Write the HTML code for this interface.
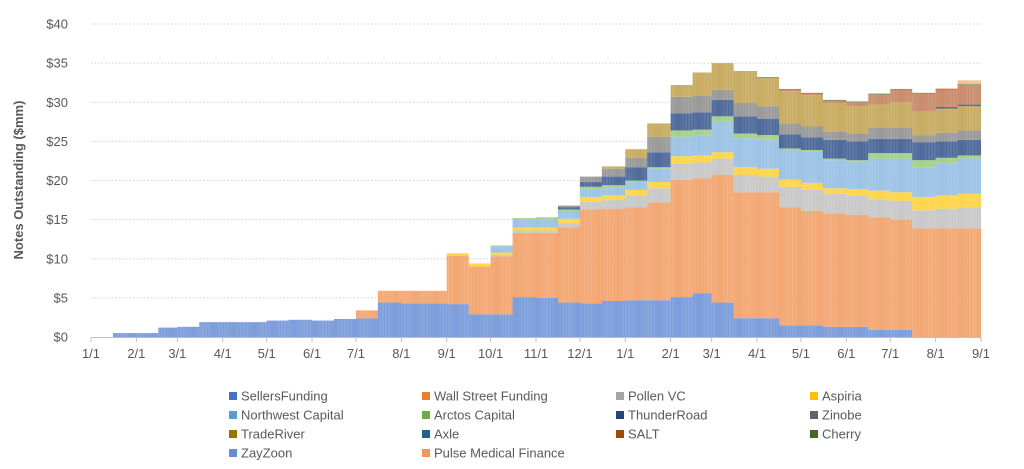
<!DOCTYPE html>
<html><head><meta charset="utf-8"><style>
body{margin:0;background:#fff;width:1024px;height:464px;overflow:hidden;font-family:"Liberation Sans",sans-serif}
svg text{font-family:"Liberation Sans",sans-serif;fill:#595959}
</style></head><body>
<svg id="chart" width="1024" height="464" viewBox="0 0 1024 464" xmlns="http://www.w3.org/2000/svg">
<g id="grid"></g>
<g id="bars"></g>
<g id="axes"></g>
<text transform="translate(23,180) rotate(-90)" text-anchor="middle" font-size="13" font-weight="bold">Notes Outstanding ($mm)</text>
<g id="legend"></g>
</svg>
<script>
// half-month periods from Jan 1 (year 1) to Aug 31 (year 2): 40 periods
const seriesNames = ["SellersFunding","Wall Street Funding","Pollen VC","Aspiria","Northwest Capital","Arctos Capital","ThunderRoad","Zinobe","TradeRiver","Axle","SALT","Cherry","ZayZoon","Pulse Medical Finance"];
const legendColors = ["#4472C4","#ED7D31","#A5A5A5","#FFC000","#5B9BD5","#70AD47","#264478","#636363","#997300","#255E91","#9E480E","#43682B","#698ED0","#F1975A"];
const barColors = ["#7d9ddb","#f3a874","#c9c9c9","#ffd54a","#9dc3e6","#a6d08a","#4f6b9c","#9a9a9a","#c8ac62","#3f6d9e","#c98c6c","#5c8a44","#8fa9df","#f7bd96"];
const sellersFunding = [0,0.5,0.5,1.2,1.3,1.9,1.9,1.9,2.1,2.2,2.1,2.3,2.4,4.4,4.3,4.3,4.2,2.9,2.9,5.1,5.0,4.4,4.3,4.6,4.7,4.7,5.1,5.6,4.4,2.4,2.4,1.5,1.5,1.3,1.3,0.9,0.9,0,0,0];
const wallStreet = [0,0,0,0,0,0,0,0,0,0,0,0,1.0,1.5,1.6,1.6,6.2,6.1,7.4,8.2,8.3,9.6,12.0,11.8,11.9,12.5,15.0,14.7,16.3,16.1,16.1,15.1,14.6,14.5,14.3,14.4,14.1,13.9,13.9,13.9];
const pollen = [0,0,0,0,0,0,0,0,0,0,0,0,0,0,0,0,0,0,0.2,0.3,0.3,0.5,1.0,1.1,1.5,1.8,2.1,2.0,2.1,2.2,2.0,2.6,2.7,2.5,2.5,2.3,2.4,2.3,2.5,2.7];
const aspiria = [0,0,0,0,0,0,0,0,0,0,0,0,0,0,0,0,0.3,0.4,0.3,0.4,0.4,0.6,0.6,0.6,0.7,0.8,0.9,0.9,0.8,1.0,1.0,0.9,0.9,0.7,0.8,1.1,1.1,1.7,1.7,1.7];
const northwest = [0,0,0,0,0,0,0,0,0,0,0,0,0,0,0,0,0,0,0.8,1.0,1.0,1.0,1.0,1.0,1.0,1.7,2.5,2.6,3.9,3.7,3.7,3.8,4.0,3.6,3.5,4.1,4.3,3.8,4.1,4.5];
const arctos = [0,0,0,0,0,0,0,0,0,0,0,0,0,0,0,0,0,0,0.1,0.2,0.3,0.2,0.3,0.3,0.2,0.2,0.8,0.7,0.7,0.6,0.6,0.2,0.2,0.2,0.2,0.7,0.7,0.9,0.7,0.4];
const thunderRoad = [0,0,0,0,0,0,0,0,0,0,0,0,0,0,0,0,0,0,0,0,0,0.3,0.6,1.1,1.7,1.9,2.2,2.2,2.1,2.2,2.1,1.8,1.6,2.4,2.4,1.8,1.8,2.3,2.1,2.0];
const zinobe = [0,0,0,0,0,0,0,0,0,0,0,0,0,0,0,0,0,0,0,0,0,0.2,0.7,1.0,1.2,2.0,2.1,2.1,1.3,1.7,1.6,1.4,1.4,1.0,1.0,1.5,1.5,0.9,1.1,1.2];
const tradeRiver = [0,0,0,0,0,0,0,0,0,0,0,0,0,0,0,0,0,0,0,0,0,0,0,0.3,1.1,1.7,1.5,3.0,3.4,4.1,3.6,4.1,4.0,3.7,3.5,2.9,3.2,3.0,3.1,3.1];
const axle = [0,0,0,0,0,0,0,0,0,0,0,0,0,0,0,0,0,0,0,0,0,0,0,0,0,0,0,0,0,0,0,0,0,0,0,0,0,0,0.2,0.2];
const salt = [0,0,0,0,0,0,0,0,0,0,0,0,0,0,0,0,0,0,0,0,0,0,0,0,0,0,0,0,0,0,0,0.2,0.2,0.3,0.5,1.3,1.6,2.3,2.2,2.5];
const cherry = [0,0,0,0,0,0,0,0,0,0,0,0,0,0,0,0,0,0,0,0,0,0,0,0,0,0,0,0,0,0,0.1,0.1,0.1,0.1,0.1,0.1,0.1,0.1,0.1,0.1];
const zayZoon = [0,0,0,0,0,0,0,0,0,0,0,0,0,0,0,0,0,0,0,0,0,0,0,0,0,0,0,0,0,0,0,0,0,0,0,0,0,0,0,0];
const pulse = [0,0,0,0,0,0,0,0,0,0,0,0,0,0,0,0,0,0,0,0,0,0,0,0,0,0,0,0,0,0,0,0,0,0,0,0,0,0,0.1,0.5];
const stackOrder = [zayZoon,sellersFunding,wallStreet,pollen,aspiria,northwest,arctos,thunderRoad,zinobe,tradeRiver,axle,salt,cherry,pulse];
const stackColorIdx = [12,0,1,2,3,4,5,6,7,8,9,10,11,13];
const yTicks = [0,5,10,15,20,25,30,35,40];
const xTickLabels = ["1/1","2/1","3/1","4/1","5/1","6/1","7/1","8/1","9/1","10/1","11/1","12/1","1/1","2/1","3/1","4/1","5/1","6/1","7/1","8/1","9/1"];

const NS="http://www.w3.org/2000/svg";
const X0=91,X1=981,Y0=337,Y40=24;
const start=new Date(2018,0,1), end=new Date(2019,8,1);
const totalDays=Math.round((end-start)/864e5);
const xScale=d=>X0+d*(X1-X0)/totalDays;
const yScale=v=>Y0-v*(Y0-Y40)/40;
function mk(tag,attrs,parent){const e=document.createElementNS(NS,tag);for(const k in attrs)e.setAttribute(k,attrs[k]);parent.appendChild(e);return e;}
const grid=document.getElementById('grid'),axes=document.getElementById('axes'),bars=document.getElementById('bars'),legend=document.getElementById('legend');
yTicks.forEach(v=>{
  if(v>0){const l=mk('line',{x1:X0,x2:X1,y1:yScale(v),y2:yScale(v),stroke:'#d0d0d0','stroke-dasharray':'1.5,2','stroke-width':1},grid);
  
  }
  const t=mk('text',{x:68,y:yScale(v)+4.5,'text-anchor':'end','font-size':13},axes);t.textContent='$'+v;
  
  
});
const dayW=(X1-X0)/totalDays;
for(let d=0;d<totalDays;d++){
  const dt=new Date(2018,0,1+d);
  const p=(dt.getFullYear()-2018)*24+dt.getMonth()*2+(dt.getDate()>=16?1:0);
  if(p>39)continue;
  const x=xScale(d);let cum=0;
  stackOrder.forEach((arr,si)=>{
    const v=arr[p];if(!v)return;
    const r=mk('rect',{x:x.toFixed(2),y:yScale(cum+v).toFixed(2),width:(dayW+0.05).toFixed(2),height:(yScale(cum)-yScale(cum+v)).toFixed(2),fill:barColors[stackColorIdx[si]]},bars);
    
    
    cum+=v;
  });
}
const ax=mk('line',{x1:X0,x2:X1,y1:Y0+0.5,y2:Y0+0.5,stroke:'#bfbfbf','stroke-width':1},axes);


xTickLabels.forEach((lab,i)=>{
  const d=Math.round((new Date(2018,i,1)-start)/864e5);const x=xScale(d);
  const tk=mk('line',{x1:x,x2:x,y1:Y0,y2:Y0+5,stroke:'#bfbfbf'},axes);
  
  
  const t=mk('text',{x:x,y:358,'text-anchor':'middle','font-size':13},axes);t.textContent=lab;
  
  
});
const colX=[229,422,616,810],rowY=[396,415,434,453];
seriesNames.forEach((n,i)=>{
  const g=mk('g',{},legend);
  
  
  const x=colX[i%4],y=rowY[Math.floor(i/4)];
  mk('rect',{x:x,y:y-4,width:8,height:8,fill:legendColors[i]},g);
  const t=mk('text',{x:x+12,y:y+4.5,'font-size':13},g);t.textContent=n;
});
</script>
</body></html>
